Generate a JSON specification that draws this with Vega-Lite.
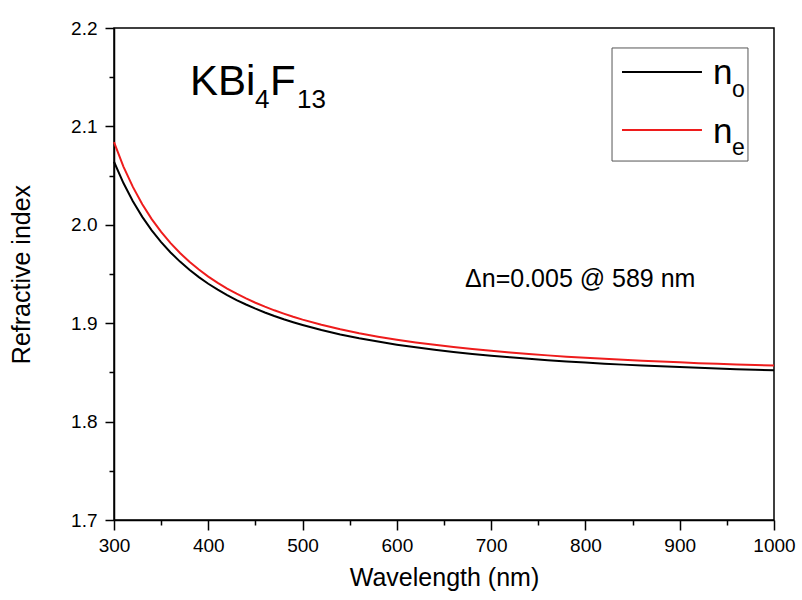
{
  "$schema": "https://vega.github.io/schema/vega-lite/v6.json",
  "width": 660,
  "height": 492,
  "autosize": {"type": "none"},
  "padding": {"left": 114, "top": 28, "right": 28, "bottom": 80},
  "background": "white",
  "config": {
    "font": "Liberation Sans",
    "view": {"stroke": "black", "strokeWidth": 1.5},
    "axis": {
      "grid": false,
      "domainColor": "black",
      "domainWidth": 1.5,
      "tickColor": "black",
      "tickWidth": 1.5,
      "labelColor": "black",
      "titleColor": "black",
      "labelFont": "Liberation Sans",
      "titleFont": "Liberation Sans",
      "titleFontWeight": "normal",
      "labelFontSize": 19,
      "titleFontSize": 25
    }
  },
  "datasets": {
    "curves": [
      {"wl": 300, "n": 2.0641, "s": "no"}, {"wl": 310, "n": 2.0424, "s": "no"}, {"wl": 320, "n": 2.0240, "s": "no"}, {"wl": 330, "n": 2.0081, "s": "no"}, {"wl": 340, "n": 1.9944, "s": "no"}, {"wl": 350, "n": 1.9824, "s": "no"}, {"wl": 360, "n": 1.9719, "s": "no"}, {"wl": 370, "n": 1.9626, "s": "no"}, {"wl": 380, "n": 1.9543, "s": "no"}, {"wl": 390, "n": 1.9468, "s": "no"}, {"wl": 400, "n": 1.9401, "s": "no"}, {"wl": 410, "n": 1.9341, "s": "no"}, {"wl": 420, "n": 1.9286, "s": "no"}, {"wl": 430, "n": 1.9235, "s": "no"}, {"wl": 440, "n": 1.9190, "s": "no"}, {"wl": 450, "n": 1.9148, "s": "no"}, {"wl": 460, "n": 1.9109, "s": "no"}, {"wl": 470, "n": 1.9073, "s": "no"}, {"wl": 480, "n": 1.9040, "s": "no"}, {"wl": 490, "n": 1.9010, "s": "no"}, {"wl": 500, "n": 1.8982, "s": "no"}, {"wl": 520, "n": 1.8930, "s": "no"}, {"wl": 540, "n": 1.8886, "s": "no"}, {"wl": 560, "n": 1.8847, "s": "no"}, {"wl": 580, "n": 1.8813, "s": "no"}, {"wl": 600, "n": 1.8782, "s": "no"}, {"wl": 620, "n": 1.8755, "s": "no"}, {"wl": 640, "n": 1.8730, "s": "no"}, {"wl": 660, "n": 1.8708, "s": "no"}, {"wl": 680, "n": 1.8688, "s": "no"}, {"wl": 700, "n": 1.8670, "s": "no"}, {"wl": 720, "n": 1.8653, "s": "no"}, {"wl": 740, "n": 1.8638, "s": "no"}, {"wl": 760, "n": 1.8624, "s": "no"}, {"wl": 780, "n": 1.8612, "s": "no"}, {"wl": 800, "n": 1.8600, "s": "no"}, {"wl": 820, "n": 1.8589, "s": "no"}, {"wl": 840, "n": 1.8579, "s": "no"}, {"wl": 860, "n": 1.8570, "s": "no"}, {"wl": 880, "n": 1.8562, "s": "no"}, {"wl": 900, "n": 1.8554, "s": "no"}, {"wl": 920, "n": 1.8546, "s": "no"}, {"wl": 940, "n": 1.8539, "s": "no"}, {"wl": 960, "n": 1.8533, "s": "no"}, {"wl": 980, "n": 1.8527, "s": "no"}, {"wl": 1000, "n": 1.8521, "s": "no"},
      {"wl": 300, "n": 2.0840, "s": "ne"}, {"wl": 310, "n": 2.0592, "s": "ne"}, {"wl": 320, "n": 2.0385, "s": "ne"}, {"wl": 330, "n": 2.0209, "s": "ne"}, {"wl": 340, "n": 2.0058, "s": "ne"}, {"wl": 350, "n": 1.9928, "s": "ne"}, {"wl": 360, "n": 1.9814, "s": "ne"}, {"wl": 370, "n": 1.9713, "s": "ne"}, {"wl": 380, "n": 1.9624, "s": "ne"}, {"wl": 390, "n": 1.9545, "s": "ne"}, {"wl": 400, "n": 1.9474, "s": "ne"}, {"wl": 410, "n": 1.9410, "s": "ne"}, {"wl": 420, "n": 1.9352, "s": "ne"}, {"wl": 430, "n": 1.9300, "s": "ne"}, {"wl": 440, "n": 1.9252, "s": "ne"}, {"wl": 450, "n": 1.9208, "s": "ne"}, {"wl": 460, "n": 1.9168, "s": "ne"}, {"wl": 470, "n": 1.9131, "s": "ne"}, {"wl": 480, "n": 1.9097, "s": "ne"}, {"wl": 490, "n": 1.9065, "s": "ne"}, {"wl": 500, "n": 1.9036, "s": "ne"}, {"wl": 520, "n": 1.8984, "s": "ne"}, {"wl": 540, "n": 1.8938, "s": "ne"}, {"wl": 560, "n": 1.8898, "s": "ne"}, {"wl": 580, "n": 1.8863, "s": "ne"}, {"wl": 600, "n": 1.8832, "s": "ne"}, {"wl": 620, "n": 1.8804, "s": "ne"}, {"wl": 640, "n": 1.8780, "s": "ne"}, {"wl": 660, "n": 1.8757, "s": "ne"}, {"wl": 680, "n": 1.8737, "s": "ne"}, {"wl": 700, "n": 1.8719, "s": "ne"}, {"wl": 720, "n": 1.8702, "s": "ne"}, {"wl": 740, "n": 1.8687, "s": "ne"}, {"wl": 760, "n": 1.8673, "s": "ne"}, {"wl": 780, "n": 1.8660, "s": "ne"}, {"wl": 800, "n": 1.8649, "s": "ne"}, {"wl": 820, "n": 1.8638, "s": "ne"}, {"wl": 840, "n": 1.8628, "s": "ne"}, {"wl": 860, "n": 1.8619, "s": "ne"}, {"wl": 880, "n": 1.8610, "s": "ne"}, {"wl": 900, "n": 1.8602, "s": "ne"}, {"wl": 920, "n": 1.8594, "s": "ne"}, {"wl": 940, "n": 1.8588, "s": "ne"}, {"wl": 960, "n": 1.8581, "s": "ne"}, {"wl": 980, "n": 1.8575, "s": "ne"}, {"wl": 1000, "n": 1.8569, "s": "ne"}
    ],
    "one": [{}]
  },
  "layer": [
    {
      "data": {"name": "curves"},
      "mark": {"type": "line", "strokeWidth": 2},
      "encoding": {
        "x": {
          "field": "wl", "type": "quantitative",
          "scale": {"domain": [300, 1000], "nice": false, "zero": false},
          "axis": {
            "title": "Wavelength (nm)",
            "values": [300, 350, 400, 450, 500, 550, 600, 650, 700, 750, 800, 850, 900, 950, 1000],
            "labelExpr": "datum.value % 100 === 0 ? format(datum.value, 'd') : ''",
            "tickSize": {"condition": {"test": "datum.value % 100 === 0", "value": 10}, "value": 5},
            "labelPadding": 6,
            "labelFontSize": 19,
            "labelFlush": false,
            "labelOverlap": false,
            "titlePadding": 10
          }
        },
        "y": {
          "field": "n", "type": "quantitative",
          "scale": {"domain": [1.7, 2.2], "nice": false, "zero": false},
          "axis": {
            "title": "Refractive index",
            "values": [1.7, 1.75, 1.8, 1.85, 1.9, 1.95, 2.0, 2.05, 2.1, 2.15, 2.2],
            "labelExpr": "round(datum.value * 100) % 10 === 0 ? format(datum.value, '.1f') : ''",
            "tickSize": {"condition": {"test": "round(datum.value * 100) % 10 === 0", "value": 9}, "value": 5},
            "labelPadding": 8,
            "labelFontSize": 19,
            "labelFlush": false,
            "labelOverlap": false,
            "titlePadding": 36
          }
        },
        "color": {
          "field": "s", "type": "nominal",
          "scale": {"domain": ["no", "ne"], "range": ["#000000", "#ee1c1c"]},
          "legend": null
        },
        "detail": {"field": "s"}
      }
    },
    {
      "data": {"name": "one"},
      "mark": {"type": "rect", "fill": "white", "stroke": "#555555", "strokeWidth": 1},
      "encoding": {"x": {"datum": 828.2}, "x2": {"datum": 972.4}, "y": {"datum": 2.1797}, "y2": {"datum": 2.0648}}
    },
    {
      "data": {"name": "one"},
      "mark": {"type": "rule", "color": "#000000", "strokeWidth": 2},
      "encoding": {"x": {"datum": 838.8}, "x2": {"datum": 923.6}, "y": {"datum": 2.1553}}
    },
    {
      "data": {"name": "one"},
      "mark": {"type": "rule", "color": "#ee1c1c", "strokeWidth": 2},
      "encoding": {"x": {"datum": 838.8}, "x2": {"datum": 923.6}, "y": {"datum": 2.0963}}
    },
    {
      "data": {"name": "one"},
      "mark": {"type": "text", "text": "n", "align": "left", "baseline": "alphabetic", "fontSize": 35, "color": "black"},
      "encoding": {"x": {"datum": 935.3}, "y": {"datum": 2.1431}}
    },
    {
      "data": {"name": "one"},
      "mark": {"type": "text", "text": "o", "align": "left", "baseline": "alphabetic", "fontSize": 23, "color": "black"},
      "encoding": {"x": {"datum": 955.4}, "y": {"datum": 2.1299}}
    },
    {
      "data": {"name": "one"},
      "mark": {"type": "text", "text": "n", "align": "left", "baseline": "alphabetic", "fontSize": 35, "color": "black"},
      "encoding": {"x": {"datum": 935.3}, "y": {"datum": 2.0831}}
    },
    {
      "data": {"name": "one"},
      "mark": {"type": "text", "text": "e", "align": "left", "baseline": "alphabetic", "fontSize": 23, "color": "black"},
      "encoding": {"x": {"datum": 955.4}, "y": {"datum": 2.0709}}
    },
    {
      "data": {"name": "one"},
      "mark": {"type": "text", "text": "KBi", "align": "left", "baseline": "alphabetic", "fontSize": 42, "color": "black"},
      "encoding": {"x": {"datum": 380.6}, "y": {"datum": 2.1319}}
    },
    {
      "data": {"name": "one"},
      "mark": {"type": "text", "text": "4", "align": "left", "baseline": "alphabetic", "fontSize": 26, "color": "black"},
      "encoding": {"x": {"datum": 449.5}, "y": {"datum": 2.1187}}
    },
    {
      "data": {"name": "one"},
      "mark": {"type": "text", "text": "F", "align": "left", "baseline": "alphabetic", "fontSize": 42, "color": "black"},
      "encoding": {"x": {"datum": 465.4}, "y": {"datum": 2.1319}}
    },
    {
      "data": {"name": "one"},
      "mark": {"type": "text", "text": "13", "align": "left", "baseline": "alphabetic", "fontSize": 26, "color": "black"},
      "encoding": {"x": {"datum": 494.1}, "y": {"datum": 2.1187}}
    },
    {
      "data": {"name": "one"},
      "mark": {"type": "text", "text": "Δn=0.005 @ 589 nm", "align": "left", "baseline": "alphabetic", "fontSize": 25, "color": "black"},
      "encoding": {"x": {"datum": 672.3}, "y": {"datum": 1.9368}}
    }
  ]
}
